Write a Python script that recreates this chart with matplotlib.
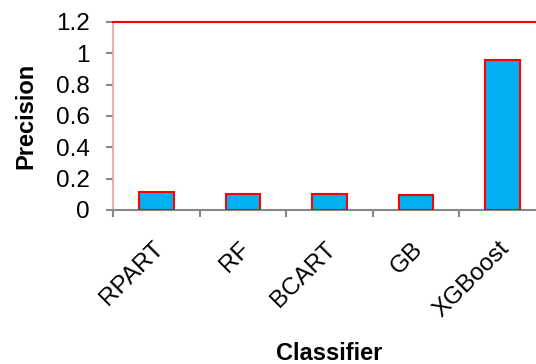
import matplotlib
matplotlib.use('Agg')
import matplotlib.pyplot as plt
import numpy as np

plt.rcParams['font.family'] = ['Liberation Sans', 'DejaVu Sans']

classifiers = ['RPART', 'RF', 'BCART', 'GB', 'XGBoost']
precision = [0.115, 0.10, 0.105, 0.097, 0.957]
yticks = [0, 0.2, 0.4, 0.6, 0.8, 1, 1.2]
ytick_labels = ['0', '0.2', '0.4', '0.6', '0.8', '1', '1.2']

fig = plt.figure(figsize=(5.36, 3.64), dpi=100)
# plot area runs a little past the right edge, like the reference
ax = fig.add_axes([113 / 536, 1 - 210 / 364, 433 / 536, 188 / 364])

x = np.arange(len(classifiers))
ax.bar(x, precision, width=0.4, color='#00B0F0', edgecolor='#FF0000', linewidth=1.5, zorder=3)

ax.set_xlim(-0.5, len(classifiers) - 0.5)
ax.set_ylim(0, 1.2)
ax.set_yticks(yticks)
ax.set_yticklabels(ytick_labels, fontsize=17.5)

# category ticks sit between the bars
ax.set_xticks(x - 0.5, minor=False)
ax.set_xticklabels([])
ax.set_xticks(x - 0.05, minor=True)
ax.set_xticklabels(classifiers, minor=True, fontsize=17.5, rotation=45,
                   ha='right', va='top', rotation_mode='anchor')
ax.tick_params(axis='x', which='minor', length=0, pad=20)
ax.tick_params(axis='x', which='major', length=5, width=1.5, color='#888888')
ax.tick_params(axis='y', length=5, width=1.5, color='#888888', pad=12)

ax.spines['bottom'].set_color('#888888')
ax.spines['bottom'].set_linewidth(1.5)
ax.spines['left'].set_color('#E8A0A0')
ax.spines['left'].set_linewidth(1.2)
ax.spines['top'].set_color('#FF0000')
ax.spines['top'].set_linewidth(1.5)
ax.spines['right'].set_visible(False)

ax.set_ylabel('Precision', fontsize=17, fontweight='bold', labelpad=13)
fig.text(329.5 / 536, 1 - 354 / 364, 'Classifier', fontsize=17, fontweight='bold',
         ha='center', va='center')

plt.savefig('out.png', dpi=100)
